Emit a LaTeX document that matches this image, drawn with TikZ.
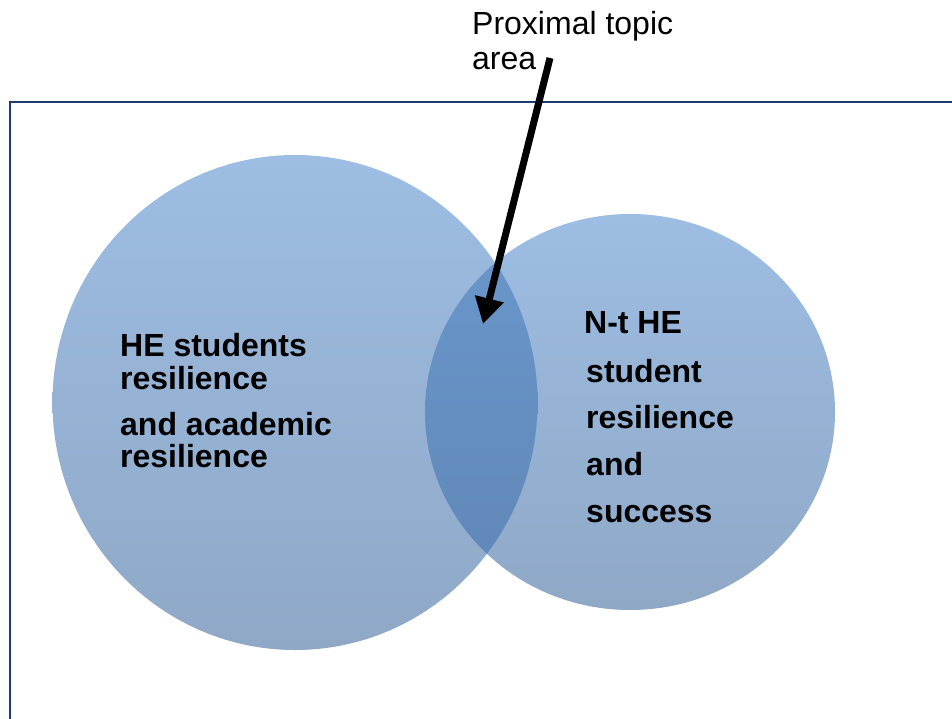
\documentclass[tikz,border=0pt]{standalone}
\usepackage{fontspec}
\setmainfont{Liberation Sans}
\usetikzlibrary{arrows.meta}
\definecolor{frameblue}{HTML}{1F3A78}
\definecolor{ctop}{HTML}{9DBDE3}
\definecolor{cbot}{HTML}{8FA8C6}
\definecolor{otop}{HTML}{6B97CC}
\definecolor{obot}{HTML}{5F87B6}
\tikzset{
  lbl/.style={font=\fontsize{32}{34}\selectfont\bfseries, anchor=base west, inner sep=0pt},
  plbl/.style={font=\fontsize{32}{35}\selectfont, anchor=base west, inner sep=0pt},
  bubble/.style={top color=ctop, bottom color=cbot, draw=none},
  lens/.style={top color=otop, bottom color=obot, draw=none},
  pointer/.style={line width=7pt, -{Triangle[length=26pt,width=28pt]}},
}
\begin{document}
\begin{tikzpicture}[x=1pt,y=-1pt]
\useasboundingbox (0,0) rectangle (952,719);
% frame (open to right and bottom)
\draw[frameblue, line width=2.5pt] (10,725) -- (10,102) -- (960,102);
% circles
\path[bubble] (295,402.5) ellipse [x radius=242.5, y radius=247.5];
\path[bubble] (630,412) ellipse [x radius=205, y radius=198];
\begin{scope}
  \clip (295,402.5) ellipse [x radius=242.5, y radius=247.5];
  \path[lens] (630,412) ellipse [x radius=205, y radius=198];
\end{scope}
% texts
\node[plbl] (p1) at (472,35) {Proximal topic};
\node[plbl] (p2) at (472,70) {area};
\node[lbl] (l1) at (120,356) {HE students};
\node[lbl] (l2) at (120,389) {resilience};
\node[lbl] (l3) at (120,435) {and academic};
\node[lbl] (l4) at (120,467) {resilience};
\node[lbl] (r1) at (584,333) {N-t HE};
\node[lbl] (r2) at (586,382) {student};
\node[lbl] (r3) at (586,428) {resilience};
\node[lbl] (r4) at (586,475) {and};
\node[lbl] (r5) at (586,522) {success};
% arrow
\coordinate (astart) at (550,58);
\coordinate (atip) at (483,324);
\draw[pointer] (astart) -- (atip);
\end{tikzpicture}
\end{document}
